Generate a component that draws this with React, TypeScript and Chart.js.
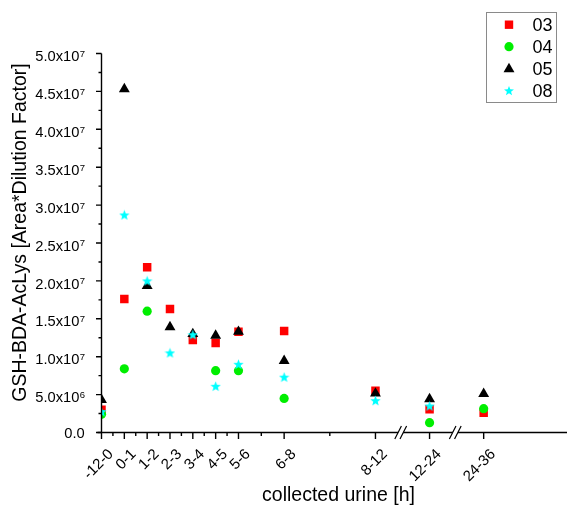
import React, { useEffect, useRef } from 'react';
import { Chart, registerables } from 'chart.js';

Chart.register(...registerables);

// ---------- data ----------
const categories = ['-12-0', '0-1', '1-2', '2-3', '3-4', '4-5', '5-6', '6-8', '8-12', '12-24', '24-36'];
const endHours = [0, 1, 2, 3, 4, 5, 6, 8, 12, 24, 36];
const seriesNames = ['03', '04', '05', '08'];
const values03 = [3.0e6, 1.76e7, 2.18e7, 1.63e7, 1.22e7, 1.18e7, 1.33e7, 1.34e7, 5.5e6, 3.06e6, 2.6e6];
const values04 = [2.4e6, 8.4e6, 1.6e7, null, null, 8.15e6, 8.15e6, 4.5e6, null, 1.3e6, 3.14e6];
const values05 = [4.3e6, 4.53e7, 1.935e7, 1.39e7, 1.3e7, 1.28e7, 1.33e7, 9.45e6, 5.15e6, 4.4e6, 5.1e6];
const values08 = [2.75e6, 2.87e7, 2.0e7, 1.05e7, 1.29e7, 6.1e6, 9.0e6, 7.3e6, 4.2e6, 3.5e6, null];
const yTickValues = [0, 5e6, 1e7, 1.5e7, 2e7, 2.5e7, 3e7, 3.5e7, 4e7, 4.5e7, 5e7];
const yTickMantissas = ['0.0', '5.0x10', '1.0x10', '1.5x10', '2.0x10', '2.5x10', '3.0x10', '3.5x10', '4.0x10', '4.5x10', '5.0x10'];
const yTickExponents = ['', '6', '7', '7', '7', '7', '7', '7', '7', '7', '7'];
const xMinorHours = [0.5, 1.5, 2.5, 3.5, 4.5, 5.5, 7, 10];
const breakHours = [17.6, 29.7];

// broken axis: hours beyond 12 are compressed
const BREAK_AT = 12;
const COMPRESS = 0.1975;
const axisPos = (h: number) => (h <= BREAK_AT ? h : BREAK_AT + (h - BREAK_AT) * COMPRESS);

const FONT = "'Liberation Sans', Arial, sans-serif";
const COLORS = ['#ff0000', '#00ee00', '#000000', '#00ffff'];

function makeStar(size: number, color: string) {
  const c = document.createElement('canvas');
  c.width = size;
  c.height = size;
  const g = c.getContext('2d')!;
  const cx = size / 2, cy = size / 2 + 0.4;
  const R = size / 2, r = R * 0.42;
  g.beginPath();
  for (let i = 0; i < 10; i++) {
    const rad = i % 2 === 0 ? R : r;
    const a = -Math.PI / 2 + (i * Math.PI) / 5;
    const px = cx + Math.cos(a) * rad, py = cy + Math.sin(a) * rad;
    if (i === 0) g.moveTo(px, py); else g.lineTo(px, py);
  }
  g.closePath();
  g.fillStyle = color;
  g.fill();
  return c;
}

function drawMarker(ctx: CanvasRenderingContext2D, kind: number, x: number, y: number, color: string) {
  ctx.save();
  ctx.fillStyle = color;
  ctx.beginPath();
  if (kind === 0) {
    ctx.rect(x - 4.2, y - 4.2, 8.4, 8.4);
  } else if (kind === 1) {
    ctx.arc(x, y, 4.6, 0, Math.PI * 2);
  } else if (kind === 2) {
    const R = 6.3;
    ctx.moveTo(x, y - R);
    ctx.lineTo(x + R * 0.866, y + R / 2);
    ctx.lineTo(x - R * 0.866, y + R / 2);
    ctx.closePath();
  } else {
    const R = 5.2, r = R * 0.42;
    for (let i = 0; i < 10; i++) {
      const rad = i % 2 === 0 ? R : r;
      const a = -Math.PI / 2 + (i * Math.PI) / 5;
      const px = x + Math.cos(a) * rad, py = y + 0.4 + Math.sin(a) * rad;
      if (i === 0) ctx.moveTo(px, py); else ctx.lineTo(px, py);
    }
    ctx.closePath();
  }
  ctx.fill();
  ctx.restore();
}

const decorPlugin = {
  id: 'decor',
  afterDraw(chart: any) {
    const ctx: CanvasRenderingContext2D = chart.ctx;
    const xs = chart.scales.x, ys = chart.scales.y;
    const a = chart.chartArea;
    ctx.save();
    ctx.strokeStyle = '#000';
    ctx.lineWidth = 1.4;
    // axis lines
    ctx.beginPath();
    ctx.moveTo(a.left, a.top);
    ctx.lineTo(a.left, a.bottom);
    ctx.moveTo(a.left - 4, a.bottom);
    ctx.lineTo(a.right, a.bottom);
    ctx.stroke();
    // y ticks
    ctx.beginPath();
    yTickValues.forEach((v, i) => {
      const py = ys.getPixelForValue(v);
      ctx.moveTo(a.left - 5.5, py);
      ctx.lineTo(a.left, py);
      if (i < yTickValues.length - 1) {
        const pm = ys.getPixelForValue((v + yTickValues[i + 1]) / 2);
        ctx.moveTo(a.left - 3, pm);
        ctx.lineTo(a.left, pm);
      }
    });
    // x ticks
    endHours.forEach((h) => {
      const px = xs.getPixelForValue(axisPos(h));
      ctx.moveTo(px, a.bottom);
      ctx.lineTo(px, a.bottom + 6.5);
    });
    xMinorHours.forEach((h) => {
      const px = xs.getPixelForValue(axisPos(h));
      ctx.moveTo(px, a.bottom);
      ctx.lineTo(px, a.bottom + 3.5);
    });
    ctx.stroke();
    // axis breaks
    breakHours.forEach((h) => {
      const cx = xs.getPixelForValue(axisPos(h));
      const cy = a.bottom;
      const dx = 3.3, dy = 6.5, gap = 2.6;
      ctx.fillStyle = '#fff';
      ctx.beginPath();
      ctx.moveTo(cx - gap - dx, cy + dy);
      ctx.lineTo(cx - gap + dx, cy - dy);
      ctx.lineTo(cx + gap + dx, cy - dy);
      ctx.lineTo(cx + gap - dx, cy + dy);
      ctx.closePath();
      ctx.fill();
      ctx.beginPath();
      ctx.moveTo(cx - gap - dx, cy + dy);
      ctx.lineTo(cx - gap + dx, cy - dy);
      ctx.moveTo(cx + gap - dx, cy + dy);
      ctx.lineTo(cx + gap + dx, cy - dy);
      ctx.lineWidth = 1.2;
      ctx.stroke();
    });
    ctx.fillStyle = '#000';
    // x tick labels, rotated 45 degrees, anchored at their end
    ctx.font = `15px ${FONT}`;
    ctx.textAlign = 'right';
    ctx.textBaseline = 'middle';
    endHours.forEach((h, i) => {
      const px = xs.getPixelForValue(axisPos(h));
      ctx.save();
      ctx.translate(px + 9.5, a.bottom + 19.5);
      ctx.rotate(-Math.PI / 4);
      ctx.fillText(categories[i], 0, 0);
      ctx.restore();
    });
    // y tick labels (mantissa x 10 with superscript exponent)
    ctx.textBaseline = 'alphabetic';
    const labelRight = a.left - 16.5;
    yTickValues.forEach((v, i) => {
      const py = ys.getPixelForValue(v);
      const exp = yTickExponents[i];
      ctx.font = `9.5px ${FONT}`;
      const ew = exp ? ctx.measureText(exp).width : 0;
      const base = exp ? py + 7.6 : py + 5.3;
      if (exp) {
        ctx.textAlign = 'right';
        ctx.fillText(exp, labelRight, base - 4.2);
      }
      ctx.font = `14.7px ${FONT}`;
      ctx.textAlign = 'right';
      ctx.fillText(yTickMantissas[i], labelRight - ew - 0.3, base);
    });
    // axis titles
    ctx.font = `19.5px ${FONT}`;
    ctx.textAlign = 'center';
    ctx.textBaseline = 'alphabetic';
    ctx.fillText('collected urine [h]', 338.5, 501);
    ctx.save();
    ctx.translate(26, 232.5);
    ctx.rotate(-Math.PI / 2);
    ctx.fillText('GSH-BDA-AcLys [Area*Dilution Factor]', 0, 0);
    ctx.restore();
    // legend
    ctx.strokeStyle = '#8a8a8a';
    ctx.lineWidth = 1;
    ctx.strokeRect(486.5, 12.5, 70, 90);
    const rows = [24.7, 46.7, 69, 90.7];
    ctx.font = `18px ${FONT}`;
    ctx.textAlign = 'left';
    ctx.textBaseline = 'middle';
    seriesNames.forEach((name, i) => {
      drawMarker(ctx, i, 509, rows[i], COLORS[i]);
      ctx.fillStyle = '#000';
      ctx.fillText(name, 532.5, rows[i] + 1);
    });
    ctx.restore();
  },
};

export default function App() {
  const ref = useRef<HTMLCanvasElement | null>(null);
  useEffect(() => {
    if (!ref.current) return;
    const star = makeStar(11, COLORS[3]);
    const toPts = (vals: (number | null)[]) =>
      vals.map((v, i) => ({ x: axisPos(endHours[i]), y: v }));
    const chart = new Chart(ref.current, {
      type: 'scatter',
      data: {
        datasets: [
          { label: seriesNames[0], data: toPts(values03), pointStyle: 'rect', pointRadius: 6, backgroundColor: COLORS[0], borderColor: COLORS[0], borderWidth: 0, order: 3, clip: 0 },
          { label: seriesNames[1], data: toPts(values04), pointStyle: 'circle', pointRadius: 4.6, backgroundColor: COLORS[1], borderColor: COLORS[1], borderWidth: 0, order: 2, clip: 0 },
          { label: seriesNames[2], data: toPts(values05), pointStyle: 'triangle', pointRadius: 6.3, backgroundColor: COLORS[2], borderColor: COLORS[2], borderWidth: 0, order: 1, clip: 0 },
          { label: seriesNames[3], data: toPts(values08), pointStyle: star as any, pointRadius: 5.5, backgroundColor: COLORS[3], borderColor: COLORS[3], borderWidth: 0, order: 0, clip: 0 },
        ] as any,
      },
      options: {
        animation: false,
        responsive: false,
        maintainAspectRatio: false,
        layout: { autoPadding: false, padding: { top: 53.5, left: 0, right: 1, bottom: 0 } },
        plugins: { legend: { display: false }, tooltip: { enabled: false } },
        scales: {
          x: {
            type: 'linear',
            min: 0,
            max: 20.39,
            afterFit: (s: any) => { s.height = 73.5; },
            grid: { display: false, drawTicks: false },
            border: { display: false },
            ticks: { display: false },
          },
          y: {
            type: 'linear',
            min: 0,
            max: 5e7,
            afterFit: (s: any) => { s.width = 101.5; },
            grid: { display: false, drawTicks: false },
            border: { display: false },
            ticks: { display: false },
          },
        },
      },
      plugins: [decorPlugin],
    });
    return () => chart.destroy();
  }, []);
  return (
    <div style={{ position: 'absolute', left: 0, top: 0, width: 568, height: 506, background: '#fff' }}>
      <canvas ref={ref} width={568} height={506} style={{ width: 568, height: 506, display: 'block' }} />
    </div>
  );
}
